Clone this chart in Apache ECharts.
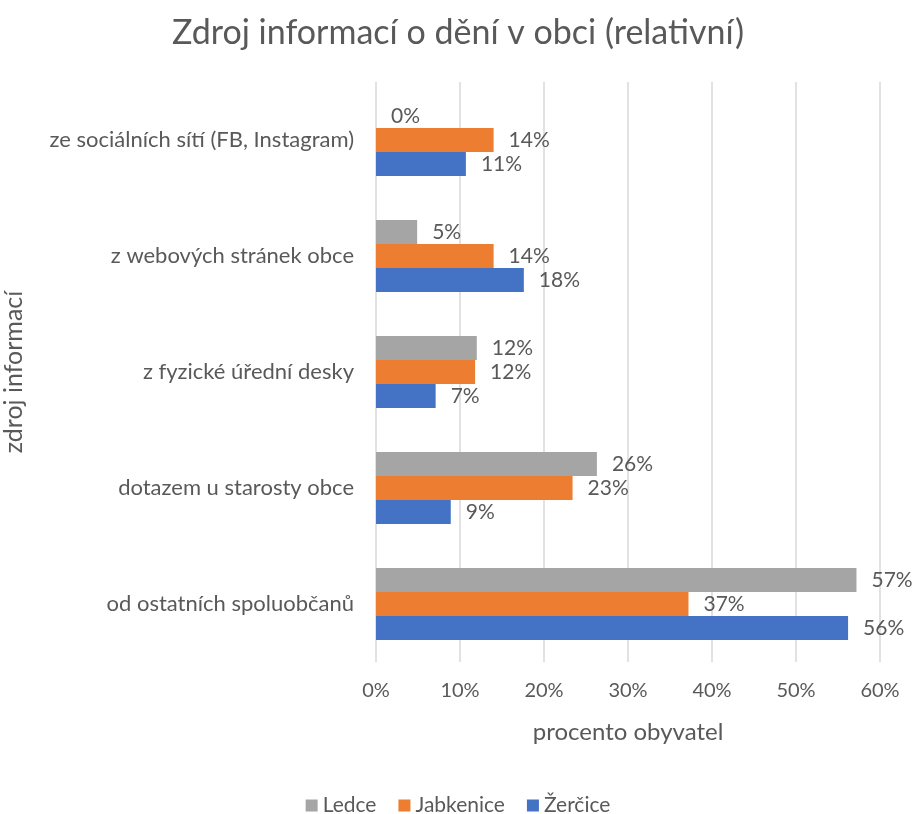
<!DOCTYPE html>
<html><head><meta charset="utf-8">
<script src="https://cdn.jsdelivr.net/npm/echarts@6/dist/echarts.min.js"></script>
<style>html,body{margin:0;padding:0;background:#fff}#c{width:916px;height:814px}</style>
</head><body><div id="c"></div>
<script>
const categories = ["ze sociálních sítí (FB, Instagram)", "z webových stránek obce", "z fyzické úřední desky", "dotazem u starosty obce", "od ostatních spoluobčanů"];
const ledce = [0, 4.9, 12.0, 26.3, 57.2];
const jabkenice = [14.0, 14.0, 11.8, 23.4, 37.2];
const zercice = [10.7, 17.6, 7.1, 8.9, 56.2];
const seriesNames = ["Ledce", "Jabkenice", "Žerčice"];
const colors = ["#A5A5A5", "#ED7D31", "#4472C4"];
const xTicks = [0, 10, 20, 30, 40, 50, 60];

const font = "Lato, 'Open Sans', sans-serif";
const txt = "#595959";
const chart = echarts.init(document.getElementById('c'));
const mk = (name, data, color) => ({
  name, type: 'bar', data, barGap: '0%', barCategoryGap: '38%',
  itemStyle: { color },
  label: { show: true, position: 'right', distance: 15, color: txt, fontFamily: font, fontSize: 21,
    formatter: p => Math.round(p.value) + '%' }
});
chart.setOption({
  animation: false,
  title: { text: "Zdroj informací o dění v obci (relativní)", left: 'center', top: 11,
    textStyle: { color: txt, fontFamily: font, fontSize: 34, fontWeight: 'normal' } },
  legend: { top: 790, left: 'center', itemWidth: 12, itemHeight: 12, itemGap: 22, icon: 'rect',
    data: seriesNames,
    textStyle: { color: txt, fontFamily: font, fontSize: 21 } },
  grid: { left: 376, right: 36, top: 82, bottom: 152, outerBoundsMode: 'none', containLabel: false },
  xAxis: { type: 'value', min: xTicks[0], max: xTicks[xTicks.length - 1], interval: 10,
    name: 'procento obyvatel', nameLocation: 'middle', nameGap: 58,
    nameTextStyle: { color: txt, fontFamily: font, fontSize: 24 },
    axisLabel: { color: txt, fontFamily: font, fontSize: 20, margin: 19, formatter: v => v + '%' },
    axisLine: { show: false }, axisTick: { show: false },
    splitLine: { lineStyle: { color: '#D9D9D9', width: 1.5 } } },
  yAxis: { type: 'category', data: categories, inverse: true,
    name: 'zdroj informací', nameLocation: 'middle', nameGap: 350, nameRotate: 90,
    nameTextStyle: { color: txt, fontFamily: font, fontSize: 25 },
    axisLabel: { color: txt, fontFamily: font, fontSize: 22, margin: 22 },
    axisLine: { show: false }, axisTick: { show: false } },
  series: [mk(seriesNames[0], ledce, colors[0]), mk(seriesNames[1], jabkenice, colors[1]), mk(seriesNames[2], zercice, colors[2])]
});
</script></body></html>
